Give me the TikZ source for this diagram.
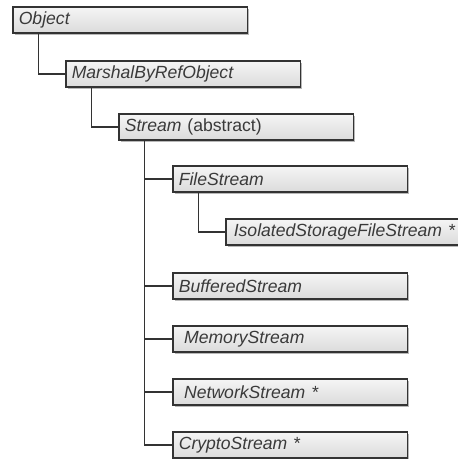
\documentclass[tikz,border=0pt]{standalone}
\usepackage{fontspec}
\setmainfont{Liberation Sans}
\usetikzlibrary{shadows}

\definecolor{boxline}{HTML}{333333}
\definecolor{boxtext}{HTML}{3a3a3a}

\tikzset{
  classbox/.style={draw=boxline, line width=1.2pt, anchor=north west,
    top color=gray!8, bottom color=gray!28,
    minimum width=176pt, minimum height=19.5pt, inner sep=0pt, text width=167pt,
    align=left, text=boxtext,
    font=\fontsize{13.2pt}{15pt}\selectfont\itshape,
    drop shadow={shadow xshift=1.4pt, shadow yshift=-1.4pt, fill=gray!70, opacity=0.8}},
  widebox/.style={classbox, minimum width=182pt, text width=174pt},
  branch/.style={draw=boxline, line width=1.2pt}
}

\begin{document}
\begin{tikzpicture}[x=0.75pt, y=-0.75pt]
        \useasboundingbox (0,0) rectangle (457,459);
        \node[classbox] (obj) at (12,6) {Object};
        \node[classbox] (mbro) at (65,60) {MarshalByRefObject};
        \node[classbox] (strm) at (118,113) {Stream \textup{(abstract)}};
        \node[classbox] (fs) at (172,165) {FileStream};
        \node[widebox] (isfs) at (225,218) {\hspace*{2pt}IsolatedStorageFileStream *};
        \node[classbox] (bs) at (172,272) {BufferedStream};
        \node[classbox] (ms) at (172,325) {\hspace*{4pt}MemoryStream};
        \node[classbox] (ns) at (172,378) {\hspace*{4pt}NetworkStream *};
        \node[classbox] (cs) at (172,431) {CryptoStream *};
        \draw[branch] ([xshift=20pt]obj.south west) |- (mbro.west);
        \draw[branch] ([xshift=20pt]mbro.south west) |- (strm.west);
        \draw[branch] ([xshift=20pt]fs.south west) |- (isfs.west);
        \foreach \child in {fs,bs,ms,ns,cs}
          \draw[branch] ([xshift=20pt]strm.south west) |- (\child.west);
    \end{tikzpicture}
\end{document}
